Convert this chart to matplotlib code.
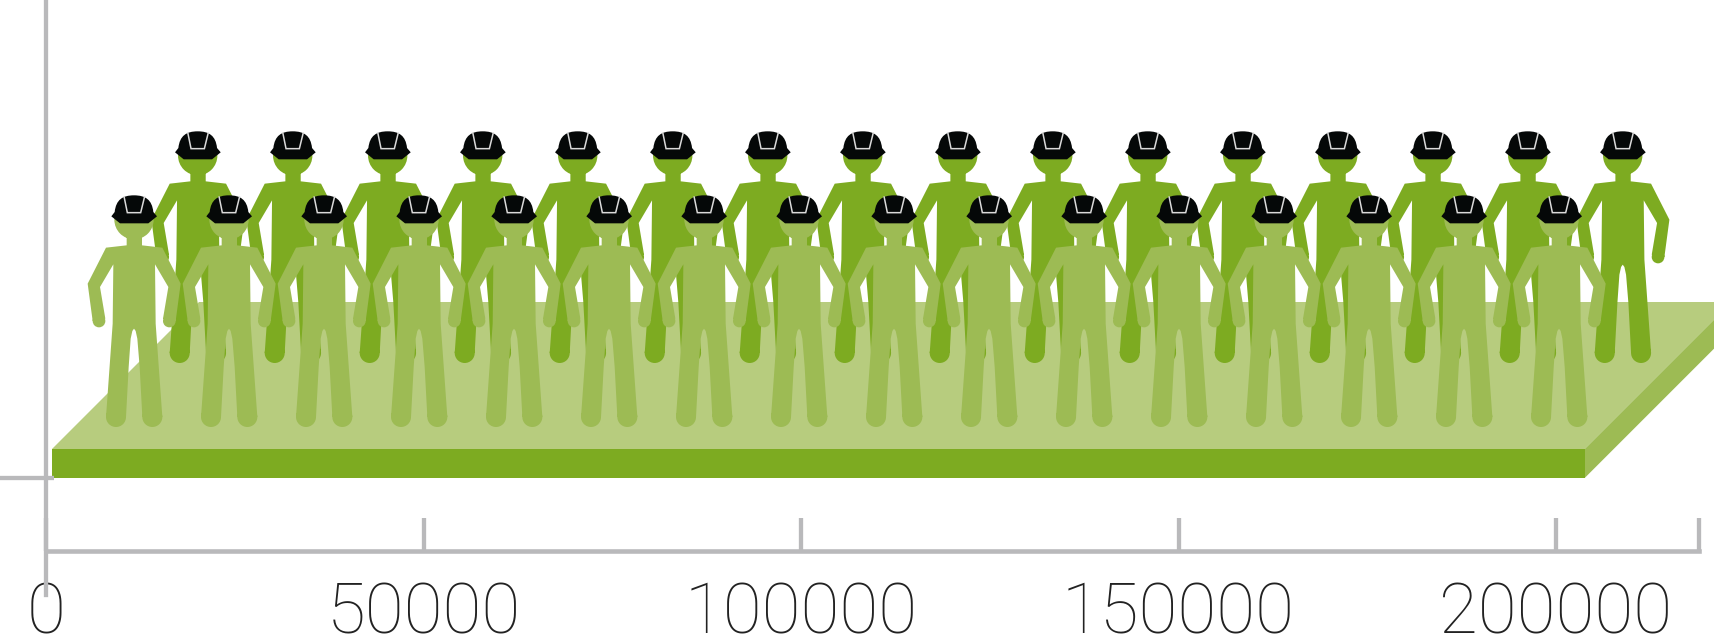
import numpy as np
import matplotlib
matplotlib.use("Agg")
import matplotlib.pyplot as plt
from matplotlib.patches import PathPatch, Polygon
from matplotlib.path import Path
from matplotlib.transforms import Affine2D

# chart values
tick_values = [0, 50000, 100000, 150000, 200000, 219000]
tick_labels = ["0", "50000", "100000", "150000", "200000", ""]
bar_value = 203800
workers_per_row = [16, 16]
value_per_worker = 12583

DARK = "#7DAB21"
MID = "#9DBB54"
LIGHT = "#B7CC7E"
AXIS = "#B9B9BB"

W, H = 1714, 636
PX = 50000 / 377.5  # data units for one pixel
X0 = 46
Y0 = 478


def glyph(points):
    # outline was measured on a 3x crop, feet at y=950, centre at x=192
    pts = (np.array(points, dtype=float) - [192, 950]) * [1, -1] / 3
    return pts


def circle(cx, cy, r):
    c = glyph([[cx, cy]])[0]
    return Path.circle(c, r / 3)


def body_path():
    outline = glyph([
        (170, 380), (170, 405), (108, 412), (53, 520), (68, 632), (106, 625),
        (90, 530), (130, 462), (128, 640), (108, 920), (168, 920), (176, 770),
        (182, 685), (187, 662), (192, 655), (197, 662), (202, 685), (209, 770),
        (217, 920), (277, 920), (257, 640), (255, 462), (295, 530), (279, 625),
        (317, 632), (332, 520), (277, 412), (216, 405), (216, 380),
    ])
    verts = np.vstack([outline, outline[:1]])
    codes = [Path.MOVETO] + [Path.LINETO] * (len(outline) - 1) + [Path.CLOSEPOLY]
    parts = [
        Path(verts, codes),
        circle(192, 328, 59),
        circle(87, 632, 19),
        circle(298, 632, 19),
        circle(138, 920, 30),
        circle(247, 920, 30),
    ]
    return Path.make_compound_path(*parts)


def hat_path():
    verts = glyph([
        (124, 318), (134, 305), (138, 268), (158, 255), (192, 255), (226, 255),
        (246, 268), (250, 305), (261, 318), (235, 339), (150, 339), (124, 318),
    ])
    codes = [Path.MOVETO, Path.LINETO, Path.CURVE4, Path.CURVE4, Path.CURVE4,
             Path.CURVE4, Path.CURVE4, Path.CURVE4, Path.LINETO, Path.LINETO,
             Path.LINETO, Path.CLOSEPOLY]
    return Path(verts, codes)


def band_path():
    return Path(glyph([(162, 258), (172, 307), (212, 307), (224, 258)]))


def draw_workers(ax, count, first_x, base_y, color, zorder):
    for i in range(count):
        x = first_x + i * value_per_worker
        tr = Affine2D().scale(PX, 1).translate(x, base_y) + ax.transData
        ax.add_patch(PathPatch(body_path(), fc=color, ec="none", transform=tr, zorder=zorder))
        ax.add_patch(PathPatch(hat_path(), fc="#050808", ec="none", transform=tr, zorder=zorder))
        ax.add_patch(PathPatch(band_path(), fc="none", ec="#DADADA", lw=1.1, transform=tr, zorder=zorder))


def draw_slab(ax, value):
    left = 6 * PX
    right = left + value - 6 * PX
    thick = 29
    depth = 147
    xmax = (W - X0) * PX
    side = (xmax - right) / PX
    top = [(left, thick), (left + depth * PX, thick + depth), (xmax, thick + depth),
           (xmax, thick + side), (right, thick)]
    face = [(right, 0), (right, thick), (xmax, thick + side), (xmax, side)]
    ax.add_patch(Polygon(top, fc=LIGHT, ec="none", zorder=1))
    ax.add_patch(Polygon(face, fc=MID, ec="none", zorder=1))
    ax.bar(left, thick, width=right - left, align="edge", color=DARK, zorder=2)


fig = plt.figure(figsize=(W / 100, H / 100), dpi=100)
ax = fig.add_axes([0, 0, 1, 1])
ax.set_xlim(-X0 * PX, (W - X0) * PX)
ax.set_ylim(Y0 - H, Y0)

draw_slab(ax, bar_value)
draw_workers(ax, workers_per_row[0], 20093, 115, DARK, 3)
draw_workers(ax, workers_per_row[1], 11656, 51, MID, 4)

for name in ["top", "right"]:
    ax.spines[name].set_visible(False)
ax.spines["bottom"].set_position(("data", -73))
ax.spines["bottom"].set_bounds(0, tick_values[-1])
ax.spines["bottom"].set_linewidth(3.3)
ax.spines["bottom"].set_color(AXIS)
ax.spines["left"].set_position(("data", 0))
ax.spines["left"].set_bounds(-117, Y0)
ax.spines["left"].set_linewidth(3.1)
ax.spines["left"].set_color(AXIS)
ax.spines["left"].set_zorder(6)

ax.set_xticks(tick_values)
ax.set_xticklabels(tick_labels, family=["Roboto", "DejaVu Sans"], weight="light", fontsize=51, color="#222222")
ax.tick_params(axis="x", direction="in", length=24, width=3.1, color=AXIS, pad=21)
ax.set_yticks([])
ax.plot([-X0 * PX, 8 * PX], [0, 0], color=AXIS, lw=3.1, zorder=6, solid_capstyle="butt")

fig.savefig("out.png", dpi=100)
